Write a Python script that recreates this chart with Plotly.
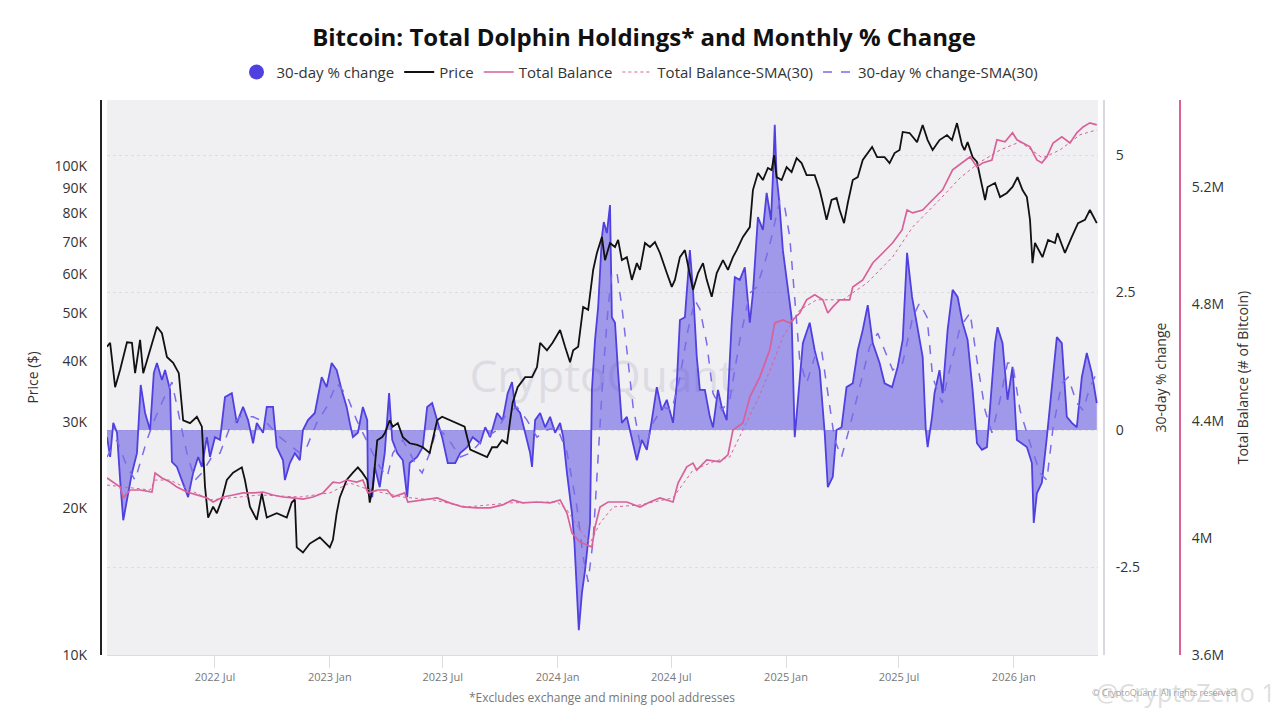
import pandas as pd
import plotly.graph_objects as go

# data; days counted from start_date
start_date = '2022-01-09'

price_days = [0, 5, 13, 21, 32, 40, 45, 53, 58, 66, 80, 88, 96, 106, 115, 122, 133, 144, 152, 157,
              162, 170, 176, 184, 192, 202, 216, 221, 229, 240, 248, 256, 272, 288, 296, 301, 304, 314,
              325, 341, 357, 362, 368, 373, 384, 394, 402, 409, 417, 421, 426, 433, 441, 445, 453, 458,
              466, 474, 485, 497, 506, 517, 522, 529, 537, 549, 561, 573, 582, 593, 609, 617, 625, 633,
              641, 646, 650, 658, 670, 681, 689, 694, 705, 714, 726, 734, 742, 747, 755, 763, 771, 779,
              785, 793, 798, 806, 814, 819, 825, 833, 841, 849, 854, 862, 870, 878, 886, 897, 905, 910,
              918, 926, 934, 939, 947, 955, 961, 969, 977, 987, 995, 1003, 1009, 1019, 1030, 1035, 1043,
              1051, 1059, 1065, 1069, 1073, 1081, 1089, 1097, 1105, 1113, 1121, 1134, 1142, 1147, 1153,
              1161, 1169, 1174, 1181, 1187, 1195, 1203, 1211, 1226, 1234, 1246, 1254, 1262, 1270, 1275,
              1286, 1298, 1307, 1315, 1323, 1334, 1346, 1354, 1362, 1370, 1374, 1379, 1387, 1394, 1399,
              1407, 1411, 1423, 1431, 1442, 1451, 1459, 1467, 1474, 1479, 1483, 1487, 1499, 1508, 1519,
              1523, 1535, 1546, 1556, 1567, 1575, 1586]
price = [42700, 43500, 35300, 38300, 43600, 43500, 37700, 44100, 37700, 40700, 46900, 45500, 40700,
         39600, 37700, 30200, 29800, 30700, 29300, 22100, 19100, 20100, 19500, 20800, 22800, 23600,
         24200, 22800, 20100, 18900, 21400, 19100, 19500, 19100, 20500, 20800, 16600, 16200, 16900,
         17400, 16600, 17200, 19500, 21000, 22800, 23600, 24200, 23600, 22800, 20500, 22100, 27500,
         27900, 28400, 30200, 29300, 29800, 27900, 27100, 26900, 26600, 25900, 27500, 30200, 30700,
         30200, 29800, 29300, 26300, 25900, 25400, 26600, 26600, 27500, 27100, 30200, 32800, 35300,
         37000, 37000, 38800, 43500, 42000, 43500, 46200, 42700, 39700, 42000, 42700, 51500, 50800,
         61300, 66400, 71600, 64200, 69600, 68300, 70600, 64200, 65100, 58500, 63300, 61300, 69600,
         68300, 69900, 66400, 60400, 56600, 58500, 65100, 67300, 59300, 55800, 60400, 63300, 58500,
         54000, 60400, 64200, 61300, 65100, 67300, 71600, 75000, 89300, 96800, 93600, 99100, 98100,
         105300, 94900, 93600, 99500, 97200, 103800, 101400, 95800, 95800, 89300, 84000, 77600, 85200,
         86000, 81300, 76400, 84000, 93600, 94900, 102900, 109400, 104300, 104300, 101400, 106300,
         107800, 117400, 116800, 111900, 121300, 113000, 107800, 113000, 115700, 113000, 122400,
         110400, 107800, 111900, 104300, 101900, 94900, 85200, 90600, 92300, 86400, 88100, 90600,
         94900, 89300, 86400, 77600, 63300, 69600, 65100, 70600, 69600, 72900, 66400, 71600, 76400,
         77600, 81300, 76400]

change_days = [0, 5, 10, 16, 21, 26, 32, 40, 48, 54, 61, 69, 75, 80, 88, 93, 101, 104, 112, 120, 130,
               138, 146, 152, 160, 165, 173, 181, 189, 200, 208, 218, 226, 234, 240, 250, 256, 266, 272,
               282, 285, 293, 301, 309, 314, 322, 333, 344, 352, 360, 368, 376, 384, 389, 394, 402, 410,
               417, 418, 425, 429, 437, 445, 452, 457, 465, 474, 481, 485, 497, 506, 513, 521, 529, 537,
               546, 558, 566, 577, 586, 598, 606, 614, 625, 634, 642, 649, 654, 662, 670, 678, 681, 686,
               694, 702, 710, 718, 726, 731, 737, 745, 749, 753, 756, 761, 766, 774, 777, 782, 787, 793,
               796, 801, 806, 809, 814, 819, 825, 833, 841, 849, 857, 865, 873, 881, 889, 897, 907, 913,
               918, 926, 934, 939, 945, 950, 958, 966, 971, 979, 985, 993, 1001, 1006, 1014, 1022, 1030,
               1035, 1043, 1051, 1057, 1064, 1067, 1070, 1073, 1077, 1083, 1091, 1097, 1102, 1107, 1115,
               1126, 1134, 1142, 1150, 1155, 1163, 1169, 1177, 1185, 1195, 1203, 1211, 1219, 1227, 1238,
               1246, 1258, 1267, 1275, 1282, 1290, 1298, 1307, 1312, 1315, 1322, 1326, 1334, 1339, 1347,
               1355, 1363, 1371, 1379, 1387, 1394, 1402, 1410, 1415, 1423, 1427, 1435, 1443, 1451, 1458,
               1466, 1474, 1482, 1485, 1490, 1498, 1506, 1514, 1522, 1530, 1538, 1546, 1554, 1562, 1570,
               1578, 1586]
change = [-0.13, -0.49, 0.13, -0.05, -0.91, -1.64, -1.27, -0.78, -0.42, 0.82, 0.31, 0.0, 1.04, 1.22,
          0.91, 1.09, 0.73, -0.58, -0.67, -0.91, -1.22, -0.78, -0.49, -0.67, -0.13, -0.49, -0.13, -0.18,
          0.60, 0.67, 0.13, 0.42, 0.18, -0.24, 0.13, -0.05, 0.42, 0.42, -0.31, -0.55, -0.91, -0.60, -0.42,
          -0.55, 0.0, 0.18, 0.31, 0.96, 0.78, 1.22, 1.09, 0.73, 0.42, 0.13, -0.13, -0.05, 0.42, 0.18,
          -1.04, -1.22, -0.67, -1.04, -0.42, 0.67, -0.18, -0.42, -0.55, -1.22, -0.60, -0.49, -0.31, 0.42,
          0.49, 0.18, -0.13, -0.60, -0.60, -0.42, -0.31, -0.13, -0.24, 0.05, -0.13, 0.31, 0.18, 0.67, 0.87,
          0.42, 0.31, -0.05, -0.42, -0.67, 0.18, 0.31, 0.05, 0.24, -0.05, 0.13, -0.13, -0.78, -1.51, -2.05,
          -2.91, -3.64, -2.96, -2.55, -1.69, 0.73, 1.64, 2.24, 3.51, 3.78, 3.58, 4.09, 2.05, 1.95, 1.04,
          0.13, 0.24, -0.13, -0.55, -0.18, -0.36, 0.18, 0.78, 0.36, 0.55, 0.13, 0.85, 2.0, 2.05, 3.27, 2.55,
          1.33, 0.73, 0.73, 0.24, 0.05, 0.73, 0.42, 0.18, 1.95, 2.78, 2.73, 2.96, 1.95, 2.49, 3.87, 3.64,
          4.31, 3.82, 4.6, 5.55, 4.6, 4.18, 3.27, 2.55, 2.05, -0.13, 0.55, 1.58, 1.95, 1.45, 1.09, -0.05,
          -1.04, -0.85, 0.0, 0.05, 0.78, 0.85, 1.45, 1.82, 2.27, 1.58, 1.22, 0.85, 0.78, 1.15, 1.64, 3.22,
          2.42, 1.87, 1.33, 0.0, -0.31, 0.24, 0.67, 1.09, 0.67, 1.82, 2.55, 2.42, 1.95, 1.64, 0.73, -0.24,
          -0.36, -0.31, 0.36, 1.58, 1.87, 1.58, 0.55, 1.15, -0.18, -0.24, -0.31, -0.6, -1.69, -1.15, -0.96,
          -0.13, 0.78, 1.69, 1.58, 0.24, 0.13, 0.05, 0.96, 1.4, 1.04, 0.49]

change_sma_days = [0, 16, 32, 45, 53, 64, 74, 90, 104, 114, 128, 141, 152, 168, 181, 197, 213, 234, 256,
                   277, 296, 309, 320, 336, 352, 368, 384, 400, 421, 437, 449, 458, 474, 497, 505, 517,
                   529, 545, 566, 582, 602, 625, 641, 657, 673, 689, 705, 721, 737, 753, 763, 771, 779,
                   787, 795, 803, 809, 817, 825, 833, 843, 854, 865, 875, 891, 905, 918, 931, 942, 950,
                   961, 971, 985, 998, 1014, 1030, 1041, 1054, 1065, 1078, 1086, 1094, 1102, 1110, 1121,
                   1134, 1145, 1155, 1166, 1177, 1190, 1206, 1222, 1235, 1246, 1259, 1275, 1291, 1302,
                   1314, 1323, 1338, 1350, 1367, 1383, 1394, 1407, 1418, 1431, 1443, 1451, 1463, 1479,
                   1495, 1506, 1516, 1530, 1540, 1554, 1564, 1575, 1586]
change_sma = [-0.49, -0.18, -0.67, -0.91, -0.6, -0.18, 0.13, 0.55, 0.87, 0.31, -0.42, -0.91, -0.78,
              -0.49, -0.42, 0.05, 0.24, 0.24, 0.13, -0.13, -0.31, -0.42, -0.31, 0.13, 0.42, 0.85, 0.64,
              0.18, -0.31, -0.67, -0.85, -0.42, -0.18, -0.67, -0.78, -0.42, 0.05, -0.13, -0.49, -0.42,
              -0.18, 0.0, 0.31, 0.42, 0.18, -0.13, 0.0, 0.05, -0.4, -1.4, -2.31, -2.76, -2.0, -0.49, 1.04,
              2.24, 2.85, 2.87, 2.24, 1.45, 0.42, -0.24, -0.24, 0.13, 0.42, 0.36, 0.96, 1.82, 2.36, 2.2,
              1.58, 0.67, 0.36, 0.55, 1.64, 2.49, 2.6, 3.04, 3.51, 4.18, 4.05, 3.51, 2.31, 1.27, 0.85,
              1.33, 1.45, 0.67, -0.18, -0.49, 0.05, 0.78, 1.51, 1.76, 1.45, 1.09, 1.22, 2.05, 2.31, 2.05,
              0.96, 0.49, 1.09, 1.87, 2.13, 1.27, 0.36, -0.05, 0.55, 1.22, 1.22, 0.36, -0.24, -0.78,
              -0.91, 0.05, 0.85, 0.96, 0.49, 0.36, 0.78, 1.04]

# total balance in millions of BTC
balance_days = [0, 21, 26, 37, 53, 72, 77, 88, 101, 112, 128, 144, 160, 170, 186, 202, 218, 234, 250,
                266, 282, 298, 314, 330, 346, 362, 373, 384, 400, 410, 418, 433, 449, 458, 477, 482, 506,
                529, 549, 570, 593, 614, 634, 650, 666, 689, 710, 726, 737, 745, 758, 769, 777, 782, 790,
                803, 833, 854, 870, 886, 907, 915, 929, 939, 945, 961, 982, 995, 1003, 1019, 1030, 1046,
                1062, 1070, 1083, 1094, 1110, 1121, 1134, 1147, 1155, 1163, 1174, 1190, 1195, 1211, 1227,
                1243, 1259, 1274, 1282, 1291, 1307, 1323, 1339, 1355, 1370, 1383, 1394, 1403, 1418, 1426,
                1439, 1451, 1458, 1467, 1479, 1490, 1498, 1506, 1516, 1530, 1543, 1554, 1564, 1575, 1586]
balance = [4.205, 4.174, 4.137, 4.164, 4.164, 4.157, 4.222, 4.205, 4.191, 4.174, 4.157, 4.147, 4.137,
           4.123, 4.140, 4.147, 4.154, 4.154, 4.157, 4.147, 4.140, 4.137, 4.133, 4.140, 4.154, 4.191,
           4.188, 4.198, 4.191, 4.198, 4.154, 4.164, 4.164, 4.140, 4.154, 4.123, 4.130, 4.137, 4.120,
           4.106, 4.103, 4.103, 4.113, 4.130, 4.120, 4.123, 4.120, 4.130, 4.085, 4.017, 3.986, 3.976,
           3.969, 4.038, 4.106, 4.123, 4.123, 4.106, 4.123, 4.137, 4.123, 4.188, 4.243, 4.256, 4.232,
           4.267, 4.260, 4.284, 4.369, 4.393, 4.482, 4.550, 4.643, 4.735, 4.745, 4.735, 4.769, 4.814,
           4.831, 4.814, 4.769, 4.790, 4.814, 4.814, 4.858, 4.882, 4.940, 4.974, 5.009, 5.053, 5.121,
           5.111, 5.121, 5.156, 5.190, 5.258, 5.282, 5.303, 5.268, 5.282, 5.292, 5.361, 5.354, 5.385,
           5.361, 5.350, 5.337, 5.292, 5.282, 5.303, 5.350, 5.371, 5.350, 5.385, 5.405, 5.419, 5.412]

balance_sma_days = [0, 69, 77, 101, 165, 245, 309, 357, 389, 421, 474, 522, 577, 646, 721, 737, 758,
                    774, 790, 811, 854, 907, 939, 971, 998, 1025, 1046, 1067, 1083, 1110, 1137, 1179,
                    1218, 1259, 1291, 1334, 1367, 1399, 1431, 1463, 1499, 1527, 1559, 1586]
balance_sma = [4.181, 4.164, 4.198, 4.198, 4.130, 4.147, 4.140, 4.154, 4.188, 4.164, 4.140, 4.130,
               4.106, 4.120, 4.123, 4.096, 4.027, 3.983, 4.051, 4.106, 4.113, 4.137, 4.232, 4.260,
               4.277, 4.393, 4.489, 4.598, 4.687, 4.779, 4.814, 4.814, 4.872, 4.961, 5.063, 5.156,
               5.231, 5.285, 5.326, 5.354, 5.299, 5.326, 5.378, 5.395]

price_ticks = [10000, 20000, 30000, 40000, 50000, 60000, 70000, 80000, 90000, 100000]
price_labels = ['10K', '20K', '30K', '40K', '50K', '60K', '70K', '80K', '90K', '100K']
change_ticks = [-2.5, 0, 2.5, 5]
change_labels = ['-2.5', '0', '2.5', '5']
balance_ticks = [3.6e6, 4.0e6, 4.4e6, 4.8e6, 5.2e6]
balance_labels = ['3.6M', '4M', '4.4M', '4.8M', '5.2M']


def to_dates(days):
    return pd.to_datetime(start_date) + pd.to_timedelta(days, unit='D')


FONT = 'Open Sans, sans-serif'
BLUE = '#5040e0'
PINK = '#d8619a'

fig = go.Figure()

# 30-day change area (base layer, so price and balance sit on top)
fig.add_trace(go.Scatter(
    x=to_dates(change_days), y=change, yaxis='y',
    mode='lines', line=dict(color=BLUE, width=1.8),
    fill='tozeroy', fillcolor='rgba(80,64,224,0.5)',
    name='30-day % change', showlegend=False,
))
fig.add_trace(go.Scatter(
    x=[None], y=[None], mode='markers',
    marker=dict(color=BLUE, size=15, symbol='circle'),
    name='30-day % change', legendrank=1,
))
fig.add_trace(go.Scatter(
    x=to_dates(change_sma_days), y=change_sma, yaxis='y',
    mode='lines', line=dict(color='#7b6be8', width=1.5, dash='dash'),
    name='30-day % change-SMA(30)', legendrank=5,
))
fig.add_trace(go.Scatter(
    x=to_dates(price_days), y=price, yaxis='y2',
    mode='lines', line=dict(color='#111111', width=1.8),
    name='Price', legendrank=2,
))
fig.add_trace(go.Scatter(
    x=to_dates(balance_days), y=[b * 1e6 for b in balance], yaxis='y3',
    mode='lines', line=dict(color=PINK, width=1.7),
    name='Total Balance', legendrank=3,
))
fig.add_trace(go.Scatter(
    x=to_dates(balance_sma_days), y=[b * 1e6 for b in balance_sma], yaxis='y3',
    mode='lines', line=dict(color=PINK, width=1, dash='dot'),
    name='Total Balance-SMA(30)', legendrank=4,
))

# the page puts the figure 8px in from the top-left corner, so it is sized 1272x712
fig.update_layout(
    width=1272,
    height=712,
    paper_bgcolor='white',
    plot_bgcolor='#f0f0f3',
    font=dict(family=FONT, size=14, color='#333333'),
    margin=dict(l=92, r=100, t=92, b=65, autoexpand=False),
    title=dict(
        text='<b>Bitcoin: Total Dolphin Holdings* and Monthly % Change</b>',
        x=0.5, xanchor='center', y=0.958, yanchor='middle',
        font=dict(family=FONT, size=24, color='#111111'),
    ),
    legend=dict(
        orientation='h',
        x=0.5, xanchor='center',
        y=1.05, yanchor='middle',
        font=dict(family=FONT, size=15, color='#333333'),
        traceorder='normal',
        itemwidth=30,
        bgcolor='rgba(0,0,0,0)',
    ),
    xaxis=dict(
        domain=[0.0065, 0.9241],
        range=[to_dates([0])[0], to_dates([1588])[0]],
        anchor='y',
        tick0='2022-01-01', dtick='M6',
        tickformat='%Y %b',
        ticks='outside', ticklen=12, tickcolor='#dddddd',
        tickfont=dict(size=11, color='#777777'),
        showline=True, linecolor='#dcdcdc', linewidth=1,
        showgrid=False, zeroline=False,
    ),
    yaxis=dict(
        title=dict(text='30-day % change', standoff=16, font=dict(size=14)),
        side='right', anchor='free', position=0.9296,
        range=[-4.09, 6.0],
        tickvals=change_ticks, ticktext=change_labels,
        tickfont=dict(size=14),
        showline=True, linecolor='#d8d8de', linewidth=2,
        showgrid=True, gridcolor='#dcdce2', griddash='dot', gridwidth=1,
        zeroline=False, ticks='', ticklabelstandoff=8,
    ),
    yaxis2=dict(
        title=dict(text='Price ($)', standoff=12, font=dict(size=14)),
        overlaying='y', side='left', anchor='free', position=0.0009,
        type='log', range=[4, 5.135],
        tickvals=price_ticks, ticktext=price_labels,
        tickfont=dict(size=14),
        showline=True, linecolor='#222222', linewidth=2,
        showgrid=False, zeroline=False, ticks='', ticklabelstandoff=10,
    ),
    yaxis3=dict(
        title=dict(text='Total Balance (# of Bitcoin)', standoff=14, font=dict(size=14)),
        overlaying='y', side='right', anchor='free', position=1.0,
        range=[3.6e6, 5.497e6],
        tickvals=balance_ticks, ticktext=balance_labels,
        tickfont=dict(size=14),
        showline=True, linecolor=PINK, linewidth=2,
        showgrid=False, zeroline=False, ticks='', ticklabelstandoff=8,
    ),
)

# watermark drawn under the traces
fig.add_shape(
    type='rect', xref='paper', yref='paper',
    x0=0.3, x1=0.63, y0=0.42, y1=0.58,
    layer='below', line=dict(width=0), fillcolor='rgba(0,0,0,0)',
    label=dict(text='CryptoQuant', textposition='middle center',
               font=dict(family=FONT, size=44, color='#dcdce2')),
)
fig.add_annotation(
    text='*Excludes exchange and mining pool addresses', xref='paper', yref='paper',
    x=0.465, y=-0.0757, yanchor='middle', showarrow=False,
    font=dict(family=FONT, size=12, color='#777777'),
)
fig.add_annotation(
    text='@CryptoZeno 1', xref='paper', yref='paper', x=1.0905, y=-0.0675,
    xanchor='right', yanchor='middle', showarrow=False,
    font=dict(family=FONT, size=25, color='rgba(190,190,190,0.5)'),
)
fig.add_annotation(
    text='© CryptoQuant. All rights reserved', xref='paper', yref='paper', x=0.985, y=-0.0675,
    xanchor='center', yanchor='middle', showarrow=False,
    font=dict(family=FONT, size=9, color='rgba(120,120,120,0.7)'),
)

fig.write_html('out.html')
